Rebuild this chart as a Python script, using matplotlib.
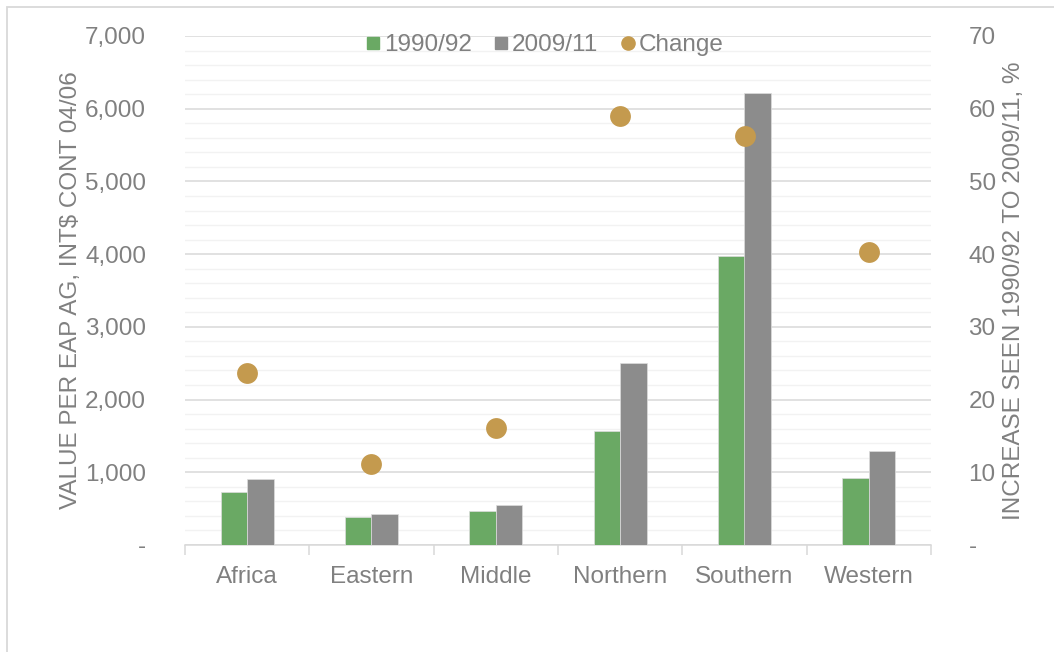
import matplotlib.pyplot as plt
from matplotlib.lines import Line2D
from matplotlib.patches import Rectangle
from matplotlib.ticker import FuncFormatter, MultipleLocator
import numpy as np

regions = ['Africa', 'Eastern', 'Middle', 'Northern', 'Southern', 'Western']
v_1990 = [735, 381, 468, 1568, 3971, 917]
v_2009 = [908, 422, 550, 2499, 6213, 1293]
change = [23.7, 11.1, 16.1, 59.0, 56.2, 40.3]

GREEN = '#6aa964'
GREY = '#8c8c8c'
GOLD = '#c49a4e'
TXT = '#808080'
FS = 17.5

plt.rcParams['font.family'] = ['Liberation Sans', 'DejaVu Sans']

fig = plt.figure(figsize=(10.54, 6.52), dpi=100)
W, H = 1054, 652
ax = fig.add_axes([185 / W, (H - 545) / H, 746 / W, 509 / H])

x = np.arange(len(regions))
bw = 0.213
ax.bar(x - bw / 2, v_1990, bw, color=GREEN, edgecolor='#dddddd', linewidth=0.5, zorder=3)
ax.bar(x + bw / 2, v_2009, bw, color=GREY, edgecolor='#dddddd', linewidth=0.5, zorder=3)

ax.set_xlim(-0.5, len(regions) - 0.5)
ax.set_ylim(0, 7000)
ax.yaxis.set_major_locator(MultipleLocator(1000))
ax.yaxis.set_minor_locator(MultipleLocator(200))
ax.grid(axis='y', which='major', color='#d9d9d9', lw=1.1, zorder=0)
ax.grid(axis='y', which='minor', color='#f2f2f2', lw=1.0, zorder=0)
ax.set_axisbelow(True)
ax.yaxis.set_major_formatter(FuncFormatter(lambda v, p: '-' if v == 0 else f'{v:,.0f}'))

ax.set_xticks(x)
ax.set_xticklabels(regions)
ax.set_xticks(np.arange(-0.5, len(regions)), minor=True)
ax.tick_params(axis='x', which='major', length=0, pad=15, labelsize=FS, labelcolor=TXT)
ax.tick_params(axis='x', which='minor', length=7, color='#d9d9d9', width=1.1)
ax.tick_params(axis='y', which='both', length=0, pad=28, labelsize=FS, labelcolor=TXT)
for s in ['top', 'right', 'left']:
    ax.spines[s].set_visible(False)
ax.spines['bottom'].set_color('#d9d9d9')
ax.spines['bottom'].set_linewidth(1.1)
ax.set_ylabel('VALUE PER EAP AG, INT$ CONT 04/06', fontsize=FS, color=TXT)
ax.yaxis.set_label_coords((82 - 185) / 746, 0.5)

ax2 = ax.twinx()
ax2.plot(x, change, 'o', color=GOLD, ms=15, mec='none', zorder=4)
ax2.set_ylim(0, 70)
ax2.yaxis.set_major_locator(MultipleLocator(10))
ax2.yaxis.set_major_formatter(FuncFormatter(lambda v, p: '-' if v == 0 else f'{v:.0f}'))
ax2.tick_params(axis='y', length=0, pad=27, labelsize=FS, labelcolor=TXT)
for s in ['top', 'right', 'left', 'bottom']:
    ax2.spines[s].set_visible(False)
ax2.set_ylabel('INCREASE SEEN 1990/92 TO 2009/11, %', fontsize=FS, color=TXT, rotation=90)
ax2.yaxis.set_label_coords((1003 - 185) / 746, 0.5)

handles = [
    Line2D([], [], ls='none', marker='s', color=GREEN, ms=9),
    Line2D([], [], ls='none', marker='s', color=GREY, ms=9),
    Line2D([], [], ls='none', marker='o', color=GOLD, ms=9.5),
]
leg = ax2.legend(handles, ['1990/92', '2009/11', 'Change'], loc='center',
                 bbox_to_anchor=(541 / W, 1 - 45 / H), bbox_transform=fig.transFigure,
                 ncol=3, frameon=False, fontsize=FS, handletextpad=-0.15,
                 columnspacing=0.6, handlelength=1.2)
for t in leg.get_texts():
    t.set_color(TXT)

fig.patches.append(Rectangle((6.5 / W, -0.1), 1.2, (H - 6.5) / H + 0.1,
                             transform=fig.transFigure, fill=False,
                             edgecolor='#d9d9d9', lw=1.3))

fig.savefig('out.png', dpi=100)
